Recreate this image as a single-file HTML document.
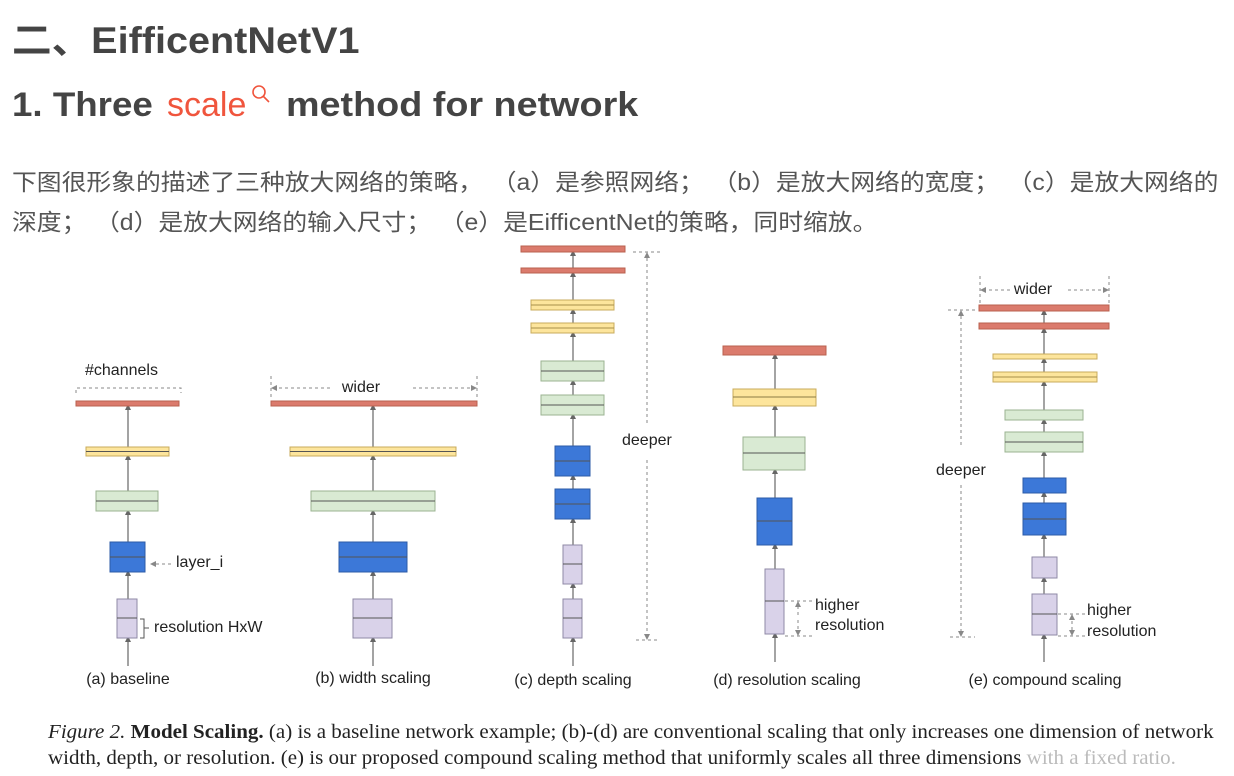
<!DOCTYPE html>
<html><head><meta charset="utf-8"><style>
html,body{margin:0;padding:0;background:#fff;}
body{width:1234px;height:776px;overflow:hidden;position:relative;}
.t{position:absolute;white-space:nowrap;color:#4a4a4a;transform-origin:0 0;}
.sp{display:inline-block;width:8px;}
</style></head><body>
<div class="t" style="left:12px;top:10px;font:bold 37px 'Liberation Sans','Noto Sans CJK SC',sans-serif;color:#444;transform:scaleX(1.07);">二、EifficentNetV1</div>
<div class="t" style="left:12px;top:86px;font:bold 34px 'Liberation Sans',sans-serif;color:#444;transform:scaleX(1.08);">1. Three</div>
<div class="t" style="left:167px;top:86px;font:34px 'Liberation Sans',sans-serif;color:#f0553d;">scale</div>
<div class="t" style="left:286px;top:86px;font:bold 34px 'Liberation Sans',sans-serif;color:#444;transform:scaleX(1.11);">method for network</div>
<svg style="position:absolute;left:250px;top:84px" width="24" height="22"><circle cx="9" cy="8" r="6" fill="none" stroke="#f0553d" stroke-width="1.6"/><line x1="13" y1="12" x2="19" y2="18" stroke="#f0553d" stroke-width="1.6"/></svg>
<div class="t" style="left:12px;top:163px;font:23px 'Liberation Sans','Noto Sans CJK SC',sans-serif;color:#555;transform:scaleX(1.078);">下图很形象的描述了三种放大网络的策略，<span class="sp"></span>（a）是参照网络；<span class="sp"></span>（b）是放大网络的宽度；<span class="sp"></span>（c）是放大网络的</div>
<div class="t" style="left:12px;top:203px;font:23px 'Liberation Sans','Noto Sans CJK SC',sans-serif;color:#555;transform:scaleX(1.078);">深度；<span class="sp"></span>（d）是放大网络的输入尺寸；<span class="sp"></span>（e）是EifficentNet的策略，同时缩放。</div>

<svg style="position:absolute;left:0;top:0" width="1234" height="776" font-family="Liberation Sans, sans-serif" font-size="16" fill="#222">
<defs>
<marker id="ar" markerWidth="6" markerHeight="6" refX="3" refY="3" orient="auto" markerUnits="userSpaceOnUse"><path d="M0,0 L6,3 L0,6 z" fill="#666"/></marker>
<marker id="ad" markerWidth="6" markerHeight="6" refX="5" refY="3" orient="auto" markerUnits="userSpaceOnUse"><path d="M0,0 L6,3 L0,6 z" fill="#888"/></marker>
<style>
.l{stroke:#666;stroke-width:1.2;marker-end:url(#ar)}
.d{stroke:#888;stroke-width:1;stroke-dasharray:3,3;fill:none}
.r{fill:#db7b6d;stroke:#b9604f}
.y{fill:#fde59c;stroke:#c8ab5c}
.g{fill:#d9ead3;stroke:#9bb392}
.b{fill:#3c78d8;stroke:#2c5ba7}
.v{fill:#d9d2e9;stroke:#8f89a6}
.m{stroke:#555;stroke-width:1}
</style>
</defs>
<!-- (a) -->
<g>
<line class="l" x1="128" y1="666" x2="128" y2="639"/>
<line class="l" x1="128" y1="599" x2="128" y2="573"/>
<line class="l" x1="128" y1="542" x2="128" y2="512"/>
<line class="l" x1="128" y1="491" x2="128" y2="457"/>
<line class="l" x1="128" y1="447" x2="128" y2="407"/>
<rect class="r" x="76" y="401" width="103" height="5"/>
<rect class="y" x="86" y="447" width="83" height="9"/><line class="m" x1="86" y1="451.5" x2="169" y2="451.5" stroke="#c8ab5c"/>
<rect class="g" x="96" y="491" width="62" height="20"/><line class="m" x1="96" y1="501" x2="158" y2="501"/>
<rect class="b" x="110" y="542" width="35" height="30"/><line class="m" x1="110" y1="557" x2="145" y2="557" stroke="#2a4f8f"/>
<rect class="v" x="117" y="599" width="20" height="39"/><line class="m" x1="117" y1="618" x2="137" y2="618" stroke="#8f89a6"/>
<text x="85" y="375">#channels</text>
<path class="d" d="M76,393 V388 H181 V393" stroke-dasharray="5,4" stroke="#666"/>
<text x="176" y="567">layer_i</text>
<line class="d" x1="171" y1="564" x2="151" y2="564" marker-end="url(#ad)"/>
<path d="M140,619 h4 v19 h-4 M144,628 h5" fill="none" stroke="#555"/>
<text x="154" y="632">resolution HxW</text>
<text x="128" y="684" text-anchor="middle">(a) baseline</text>
</g>
<!-- (b) -->
<g>
<line class="l" x1="373" y1="666" x2="373" y2="639"/>
<line class="l" x1="373" y1="599" x2="373" y2="573"/>
<line class="l" x1="373" y1="542" x2="373" y2="512"/>
<line class="l" x1="373" y1="491" x2="373" y2="457"/>
<line class="l" x1="373" y1="447" x2="373" y2="407"/>
<rect class="r" x="271" y="401" width="206" height="5"/>
<rect class="y" x="290" y="447" width="166" height="9"/><line class="m" x1="290" y1="451.5" x2="456" y2="451.5" stroke="#c8ab5c"/>
<rect class="g" x="311" y="491" width="124" height="20"/><line class="m" x1="311" y1="501" x2="435" y2="501"/>
<rect class="b" x="339" y="542" width="68" height="30"/><line class="m" x1="339" y1="557" x2="407" y2="557" stroke="#2a4f8f"/>
<rect class="v" x="353" y="599" width="39" height="39"/><line class="m" x1="353" y1="618" x2="392" y2="618" stroke="#8f89a6"/>
<line class="d" x1="271" y1="376" x2="271" y2="400"/><line class="d" x1="477" y1="376" x2="477" y2="400"/>
<line class="d" x1="330" y1="388" x2="272" y2="388" marker-end="url(#ad)"/>
<line class="d" x1="413" y1="388" x2="476" y2="388" marker-end="url(#ad)"/>
<text x="361" y="392" text-anchor="middle">wider</text>
<text x="373" y="683" text-anchor="middle">(b) width scaling</text>
</g>
<!-- (c) -->
<g>
<line class="l" x1="573" y1="666" x2="573" y2="639"/>
<line class="l" x1="573" y1="599" x2="573" y2="585"/>
<line class="l" x1="573" y1="545" x2="573" y2="520"/>
<line class="l" x1="573" y1="489" x2="573" y2="477"/>
<line class="l" x1="573" y1="446" x2="573" y2="416"/>
<line class="l" x1="573" y1="395" x2="573" y2="382"/>
<line class="l" x1="573" y1="361" x2="573" y2="334"/>
<line class="l" x1="573" y1="323" x2="573" y2="311"/>
<line class="l" x1="573" y1="300" x2="573" y2="274"/>
<line class="l" x1="573" y1="268" x2="573" y2="253"/>
<rect class="r" x="521" y="246" width="104" height="6"/>
<rect class="r" x="521" y="268" width="104" height="5"/>
<rect class="y" x="531" y="300" width="83" height="10"/><line x1="531" y1="305" x2="614" y2="305" stroke="#a88f4a"/>
<rect class="y" x="531" y="323" width="83" height="10"/><line x1="531" y1="328" x2="614" y2="328" stroke="#a88f4a"/>
<rect class="g" x="541" y="361" width="63" height="20"/><line class="m" x1="541" y1="371" x2="604" y2="371"/>
<rect class="g" x="541" y="395" width="63" height="20"/><line class="m" x1="541" y1="405" x2="604" y2="405"/>
<rect class="b" x="555" y="446" width="35" height="30"/><line class="m" x1="555" y1="461" x2="590" y2="461" stroke="#2a4f8f"/>
<rect class="b" x="555" y="489" width="35" height="30"/><line class="m" x1="555" y1="504" x2="590" y2="504" stroke="#2a4f8f"/>
<rect class="v" x="563" y="545" width="19" height="39"/><line class="m" x1="563" y1="564" x2="582" y2="564" stroke="#8f89a6"/>
<rect class="v" x="563" y="599" width="19" height="39"/><line class="m" x1="563" y1="618" x2="582" y2="618" stroke="#8f89a6"/>
<line class="d" x1="633" y1="252" x2="660" y2="252"/>
<line class="d" x1="636" y1="640" x2="660" y2="640"/>
<line class="d" x1="647" y1="423" x2="647" y2="253" marker-end="url(#ad)"/>
<line class="d" x1="647" y1="460" x2="647" y2="639" marker-end="url(#ad)"/>
<text x="622" y="445">deeper</text>
<text x="573" y="685" text-anchor="middle">(c) depth scaling</text>
</g>
<!-- (d) -->
<g>
<line class="l" x1="775" y1="662" x2="775" y2="635"/>
<line class="l" x1="775" y1="569" x2="775" y2="546"/>
<line class="l" x1="775" y1="498" x2="775" y2="471"/>
<line class="l" x1="775" y1="437" x2="775" y2="407"/>
<line class="l" x1="775" y1="389" x2="775" y2="356"/>
<rect class="r" x="723" y="346" width="103" height="9"/>
<rect class="y" x="733" y="389" width="83" height="17"/><line x1="733" y1="397" x2="816" y2="397" stroke="#8c7a44"/>
<rect class="g" x="743" y="437" width="62" height="33"/><line class="m" x1="743" y1="453" x2="805" y2="453"/>
<rect class="b" x="757" y="498" width="35" height="47"/><line class="m" x1="757" y1="521" x2="792" y2="521" stroke="#2a4f8f"/>
<rect class="v" x="765" y="569" width="19" height="65"/><line class="m" x1="765" y1="601" x2="784" y2="601" stroke="#8f89a6"/>
<line class="d" x1="785" y1="601" x2="812" y2="601"/>
<line class="d" x1="785" y1="636" x2="812" y2="636"/>
<line class="d" x1="798" y1="615" x2="798" y2="602" marker-end="url(#ad)"/>
<line class="d" x1="798" y1="620" x2="798" y2="635" marker-end="url(#ad)"/>
<text x="815" y="610">higher</text>
<text x="815" y="630">resolution</text>
<text x="787" y="685" text-anchor="middle">(d) resolution scaling</text>
</g>
<!-- (e) -->
<g>
<line class="l" x1="1044" y1="662" x2="1044" y2="636"/>
<line class="l" x1="1044" y1="594" x2="1044" y2="579"/>
<line class="l" x1="1044" y1="557" x2="1044" y2="536"/>
<line class="l" x1="1044" y1="503" x2="1044" y2="494"/>
<line class="l" x1="1044" y1="478" x2="1044" y2="453"/>
<line class="l" x1="1044" y1="432" x2="1044" y2="421"/>
<line class="l" x1="1044" y1="410" x2="1044" y2="383"/>
<line class="l" x1="1044" y1="372" x2="1044" y2="360"/>
<line class="l" x1="1044" y1="354" x2="1044" y2="330"/>
<line class="l" x1="1044" y1="323" x2="1044" y2="312"/>
<rect class="r" x="979" y="305" width="130" height="6"/>
<rect class="r" x="979" y="323" width="130" height="6"/>
<rect class="y" x="993" y="354" width="104" height="5"/>
<rect class="y" x="993" y="372" width="104" height="10"/><line x1="993" y1="377" x2="1097" y2="377" stroke="#a88f4a"/>
<rect class="g" x="1005" y="410" width="78" height="10"/>
<rect class="g" x="1005" y="432" width="78" height="20"/><line class="m" x1="1005" y1="442" x2="1083" y2="442"/>
<rect class="b" x="1023" y="478" width="43" height="15"/>
<rect class="b" x="1023" y="503" width="43" height="32"/><line class="m" x1="1023" y1="519" x2="1066" y2="519" stroke="#2a4f8f"/>
<rect class="v" x="1032" y="557" width="25" height="21"/>
<rect class="v" x="1032" y="594" width="25" height="41"/><line class="m" x1="1032" y1="614" x2="1057" y2="614" stroke="#8f89a6"/>
<line class="d" x1="980" y1="276" x2="980" y2="304"/><line class="d" x1="1109" y1="276" x2="1109" y2="304"/>
<line class="d" x1="1010" y1="290" x2="981" y2="290" marker-end="url(#ad)"/>
<line class="d" x1="1068" y1="290" x2="1108" y2="290" marker-end="url(#ad)"/>
<text x="1033" y="294" text-anchor="middle">wider</text>
<line class="d" x1="948" y1="310" x2="975" y2="310"/>
<line class="d" x1="950" y1="637" x2="975" y2="637"/>
<line class="d" x1="961" y1="445" x2="961" y2="311" marker-end="url(#ad)"/>
<line class="d" x1="961" y1="485" x2="961" y2="636" marker-end="url(#ad)"/>
<text x="936" y="475">deeper</text>
<line class="d" x1="1058" y1="614" x2="1086" y2="614"/>
<line class="d" x1="1058" y1="636" x2="1086" y2="636"/>
<line class="d" x1="1072" y1="624" x2="1072" y2="615" marker-end="url(#ad)"/>
<line class="d" x1="1072" y1="627" x2="1072" y2="635" marker-end="url(#ad)"/>
<text x="1087" y="615">higher</text>
<text x="1087" y="636">resolution</text>
<text x="1045" y="685" text-anchor="middle">(e) compound scaling</text>
</g>
</svg>

<div class="t" style="left:48px;top:721px;font:20px 'Liberation Serif',serif;color:#222;transform:scaleX(1.05);"><i>Figure 2.</i> <b>Model Scaling.</b> (a) is a baseline network example; (b)-(d) are conventional scaling that only increases one dimension of network</div>
<div class="t" style="left:48px;top:747px;font:20px 'Liberation Serif',serif;color:#222;transform:scaleX(1.05);">width, depth, or resolution. (e) is our proposed compound scaling method that uniformly scales all three dimensions <span style="color:#bbb">with a fixed ratio.</span></div>
</body></html>
